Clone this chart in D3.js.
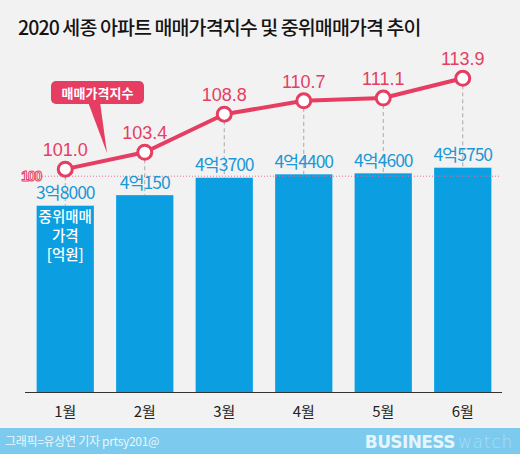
<!DOCTYPE html>
<html><head><meta charset="utf-8">
<script src="https://cdn.jsdelivr.net/npm/d3@7"></script>
<style>
html,body{margin:0;padding:0;background:#f2f2f2;}
svg{display:block;font-family:"Noto Sans CJK KR","Noto Sans",sans-serif;}
</style></head>
<body>
<svg id="c" width="520" height="454"></svg>
<script>
const months = ["1월","2월","3월","4월","5월","6월"];
const indexValues = [101.0, 103.4, 108.8, 110.7, 111.1, 113.9];
const priceValues = [38000, 40150, 43700, 44400, 44600, 45750]; // 만원
const priceLabels = ["3억8000","4억150","4억3700","4억4400","4억4600","4억5750"];
const indexLabels = ["101.0","103.4","108.8","110.7","111.1","113.9"];
const baseIndex = 100;

const RED = "#e63d62", BLUE = "#0b9fe2";
const svg = d3.select("#c");
svg.append("rect").attr("width",520).attr("height",454).attr("fill","#f2f2f2");

const x = d3.scaleBand().domain(months).range([25.5, 502.5]).paddingInner(0.28).paddingOuter(0.14);
const yBar = d3.scaleLinear().domain([0, 38000]).range([392, 205.7]);
const yIdx = d3.scaleLinear().domain([100, 113.9]).range([176.2, 78.3]);
const cx = m => x(m) + x.bandwidth()/2;

// title
svg.append("text").attr("x",18).attr("y",35).attr("font-size",19.5).attr("font-weight",500)
  .attr("fill","#141414").attr("letter-spacing","-0.9")
  .text("2020 세종 아파트 매매가격지수 및 중위매매가격 추이");

// bars
svg.append("g").selectAll("rect").data(months).join("rect")
  .attr("x", m => x(m)).attr("width", x.bandwidth())
  .attr("y", (m,i) => yBar(priceValues[i]))
  .attr("height", (m,i) => yBar(0) - yBar(priceValues[i]))
  .attr("fill", BLUE);

// dashed verticals
svg.append("g").selectAll("line").data(months).join("line")
  .attr("x1", cx).attr("x2", cx)
  .attr("y1", (m,i) => yIdx(indexValues[i]) + 7)
  .attr("y2", (m,i) => yBar(priceValues[i]))
  .attr("stroke","#a8a8a8").attr("stroke-width",1).attr("stroke-dasharray","4,3");

// base 100 line
svg.append("line").attr("x1",42).attr("x2",500).attr("y1",yIdx(baseIndex)).attr("y2",yIdx(baseIndex))
  .attr("stroke","#ea6f92").attr("stroke-width",1).attr("stroke-dasharray","1,2");
svg.append("text").attr("x",41).attr("y",yIdx(baseIndex)+4.5).attr("text-anchor","end")
  .attr("font-size",14).attr("font-weight",700).attr("letter-spacing","-1.2")
  .attr("font-family","'Liberation Sans',Arial,sans-serif")
  .attr("fill","#ffffff").attr("stroke",RED).attr("stroke-width",1)
  .text(baseIndex);

// axis
const xAxis = d3.axisBottom(x).tickSize(0).tickPadding(14);
const ax = svg.append("g").attr("transform","translate(0,392)").call(xAxis);
ax.select(".domain").attr("stroke","#333").attr("stroke-width",1.2).attr("d","M25,0.5H502");
ax.selectAll("text").attr("font-size",15).attr("fill","#222").attr("font-family","'Noto Sans CJK KR',sans-serif");

// bar labels
svg.append("g").selectAll("text").data(months).join("text")
  .attr("x", cx).attr("y", (m,i) => yBar(priceValues[i]) - 6.5)
  .attr("text-anchor","middle").attr("font-size",17.5).attr("fill","#1b98d6")
  .attr("letter-spacing","-1")
  .text((m,i) => priceLabels[i]);

// in-bar caption
const cap = svg.append("text").attr("text-anchor","middle").attr("fill","#fff").attr("font-size",14.5).attr("font-weight",500);
["중위매매","가격","[억원]"].forEach((t,i) => {
  cap.append("tspan").attr("x", cx(months[0])).attr("y", 222 + i*19).text(t);
});

// index line
const line = d3.line().x((d,i) => cx(months[i])).y(d => yIdx(d));
svg.append("path").datum(indexValues).attr("d", line)
  .attr("fill","none").attr("stroke",RED).attr("stroke-width",4).attr("stroke-linejoin","round");
svg.append("g").selectAll("circle").data(indexValues).join("circle")
  .attr("cx",(d,i) => cx(months[i])).attr("cy", d => yIdx(d)).attr("r",7)
  .attr("fill","#fff").attr("stroke",RED).attr("stroke-width",3);
svg.append("g").selectAll("text").data(indexValues).join("text")
  .attr("x",(d,i) => cx(months[i])).attr("y", d => yIdx(d) - 13)
  .attr("text-anchor","middle").attr("font-size",18).attr("fill",RED)
  .attr("font-family","'Liberation Sans',Arial,sans-serif")
  .text((d,i) => indexLabels[i]);

// callout
const co = svg.append("g");
co.append("path").attr("d","M88,102 L107,153 L100,102 Z").attr("fill",RED);
co.append("rect").attr("x",51).attr("y",81).attr("width",93).attr("height",23).attr("rx",5).attr("fill",RED);
co.append("text").attr("x",97.5).attr("y",97.5).attr("text-anchor","middle").attr("fill","#fff")
  .attr("font-size",13).attr("font-weight",700).text("매매가격지수");

// footer
svg.append("rect").attr("x",0).attr("y",428).attr("width",520).attr("height",26).attr("fill","#7ccbee");
svg.append("text").attr("x",5).attr("y",446).attr("font-size",12).attr("fill","#eaf6fc").attr("letter-spacing","-0.3")
  .text("그래픽=유상연 기자 prtsy201@");
const bw = svg.append("text").attr("x",513).attr("y",448).attr("text-anchor","end").attr("font-size",17)
  .attr("font-family","'DejaVu Sans',sans-serif");
bw.append("tspan").attr("font-weight",700).attr("fill","#e6f4fb").attr("letter-spacing","-0.6").text("BUSINESS");
bw.append("tspan").attr("font-weight",300).attr("fill","#a9dcf4").attr("dx",3).attr("letter-spacing","0.8").text("watch");
</script>
</body></html>
